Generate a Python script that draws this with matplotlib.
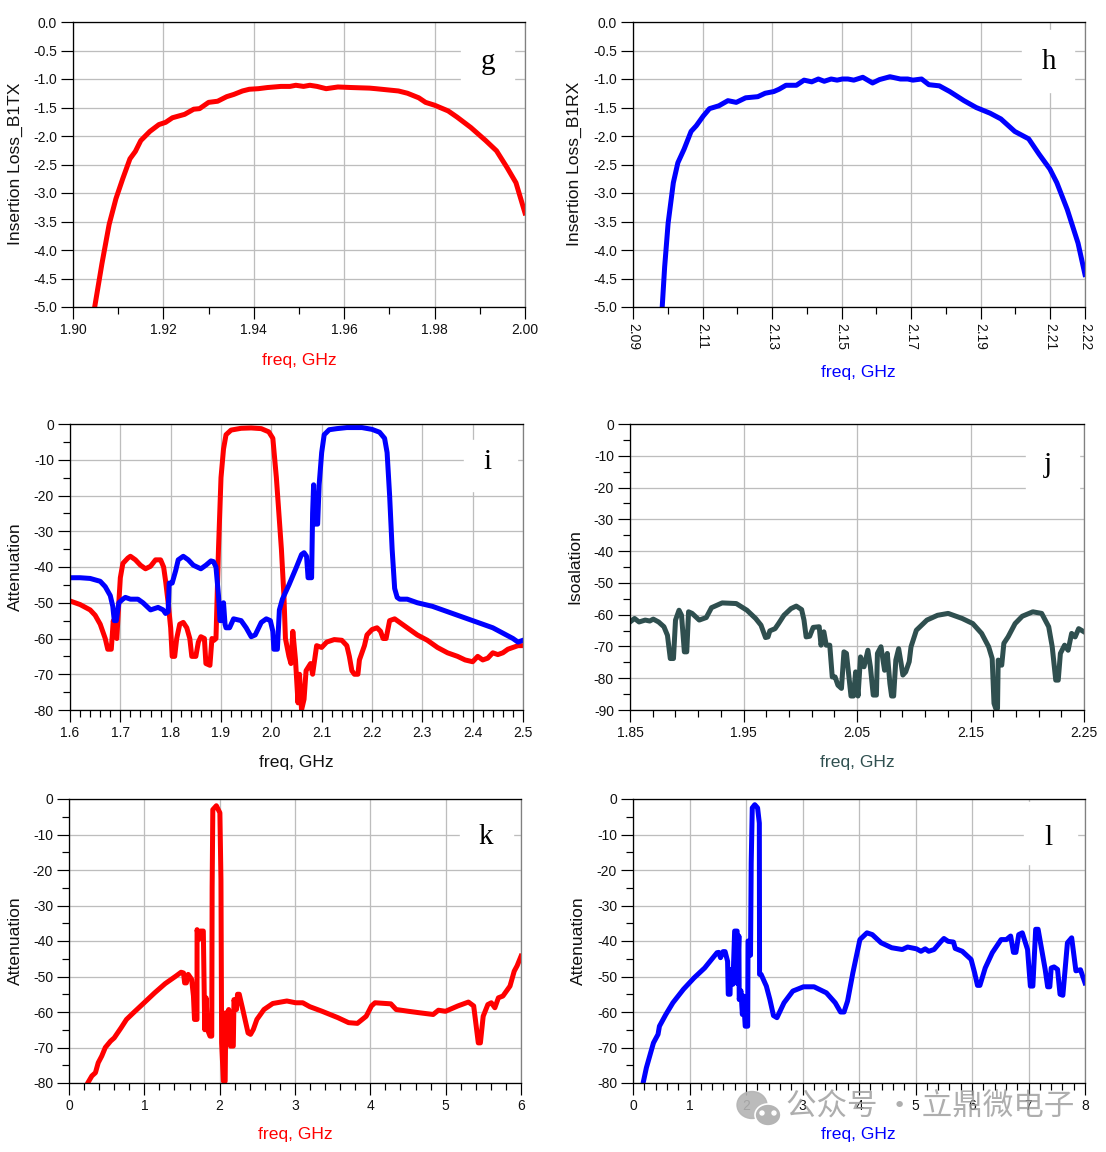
import matplotlib
matplotlib.use('Agg')
import matplotlib.pyplot as plt
from matplotlib.patches import Ellipse
import numpy as np

plt.rcParams['font.family'] = ['Liberation Sans', 'DejaVu Sans']

W, H = 1106, 1152

# panel g
g_freq = [1.9048, 1.9064, 1.908, 1.9095, 1.911, 1.9126, 1.9138, 1.915, 1.917, 1.919, 1.9205, 1.922, 1.9247, 1.9267,
          1.928, 1.93, 1.932, 1.934, 1.9356, 1.9375, 1.939, 1.941, 1.943, 1.946, 1.948, 1.9493, 1.951, 1.9524, 1.954,
          1.956, 1.9586, 1.9617, 1.9656, 1.967, 1.9695, 1.972, 1.974, 1.9765, 1.978, 1.98, 1.983, 1.985, 1.988,
          1.9913, 1.9937, 1.996, 1.998, 2.0]
g_loss = [-5.0, -4.24, -3.55, -3.1, -2.75, -2.4, -2.27, -2.08, -1.92, -1.8, -1.76, -1.68, -1.62, -1.53,
          -1.52, -1.41, -1.39, -1.31, -1.27, -1.21, -1.18, -1.17, -1.15, -1.13, -1.13, -1.11, -1.13, -1.11, -1.13,
          -1.17, -1.14, -1.15, -1.16, -1.17, -1.19, -1.21, -1.25, -1.33, -1.41, -1.46, -1.56, -1.67, -1.85,
          -2.08, -2.26, -2.55, -2.82, -3.35]

# panel h
h_freq = [2.0984, 2.0991, 2.1001, 2.1016, 2.1029, 2.1047, 2.1067, 2.1082, 2.1102, 2.112, 2.1147, 2.1173, 2.1197,
          2.1224, 2.1259, 2.128, 2.1305, 2.132, 2.134, 2.137, 2.1392, 2.1414, 2.1433, 2.145, 2.147, 2.1487, 2.1502,
          2.1518, 2.1535, 2.1561, 2.1589, 2.1609, 2.1639, 2.1669, 2.169, 2.1705, 2.173, 2.1751, 2.1781, 2.1811,
          2.1852, 2.1887, 2.1927, 2.1958, 2.1998, 2.2038, 2.2068, 2.2099, 2.2119, 2.2149, 2.218, 2.22]
h_loss = [-5.0, -4.3, -3.53, -2.82, -2.47, -2.23, -1.92, -1.82, -1.65, -1.52, -1.47, -1.38, -1.41,
          -1.33, -1.31, -1.25, -1.22, -1.18, -1.11, -1.11, -1.02, -1.05, -1.0, -1.04, -1.0, -1.02, -1.0,
          -1.0, -1.02, -0.97, -1.07, -1.01, -0.96, -1.0, -1.0, -1.02, -1.0, -1.1, -1.12, -1.22,
          -1.38, -1.5, -1.6, -1.7, -1.92, -2.05, -2.32, -2.58, -2.82, -3.29, -3.88, -4.43]

# panel i
i_tx_freq = [1.6, 1.62, 1.64, 1.65, 1.66, 1.67, 1.675, 1.682, 1.686, 1.69, 1.693, 1.697, 1.7, 1.705, 1.715, 1.72,
             1.73, 1.74, 1.75, 1.76, 1.77, 1.78, 1.786, 1.79, 1.795, 1.8, 1.803, 1.808, 1.812, 1.818, 1.825, 1.832,
             1.838, 1.842, 1.85, 1.855, 1.86, 1.867, 1.87, 1.878, 1.882, 1.886, 1.89, 1.892, 1.895, 1.9, 1.905,
             1.91, 1.92, 1.94, 1.96, 1.98, 1.995, 2.003, 2.01, 2.02, 2.025, 2.028, 2.035, 2.039, 2.0427, 2.048,
             2.053, 2.056, 2.06, 2.065, 2.069, 2.078, 2.082, 2.09, 2.1, 2.11, 2.125, 2.14, 2.15, 2.155, 2.16,
             2.165, 2.172, 2.175, 2.185, 2.19, 2.2, 2.21, 2.217, 2.222, 2.228, 2.235, 2.245, 2.255, 2.27, 2.29,
             2.31, 2.33, 2.35, 2.37, 2.385, 2.4, 2.41, 2.42, 2.43, 2.44, 2.45, 2.46, 2.47, 2.48, 2.49, 2.5]
i_tx = [-49.5, -50.5, -52, -53.5, -56, -60, -63, -63, -55, -59, -60, -50, -43, -39, -37.5, -37,
        -38, -39.5, -40.5, -39.8, -38, -38, -40, -44, -50, -57, -65, -65, -60, -56, -55.5, -57,
        -60, -65, -65, -61, -59.5, -60, -67, -67.5, -60, -60.5, -60, -50, -35, -15, -7,
        -3, -1.7, -1.2, -1.1, -1.3, -2.2, -4, -15, -35, -48, -60, -65, -67, -58, -66,
        -78, -70, -80, -77, -69, -67, -70, -62, -62.5, -61, -60.3, -60.5, -62, -65, -69,
        -70, -70, -66, -62, -59, -57.5, -57, -58, -60, -60, -55, -54.5, -55.5, -57, -59,
        -60.5, -62.5, -64, -65, -66, -66.5, -65, -66, -65.5, -64, -64.5, -64, -63, -62.5, -62, -62]
i_rx_freq = [1.6, 1.62, 1.64, 1.66, 1.67, 1.68, 1.685, 1.688, 1.692, 1.697, 1.705, 1.71, 1.72, 1.735, 1.745, 1.76,
             1.775, 1.785, 1.79, 1.795, 1.797, 1.803, 1.81, 1.815, 1.825, 1.835, 1.845, 1.86, 1.87, 1.88, 1.885,
             1.89, 1.895, 1.898, 1.902, 1.905, 1.908, 1.91, 1.917, 1.925, 1.94, 1.95, 1.96, 1.968, 1.98, 1.99,
             1.998, 2.003, 2.005, 2.012, 2.016, 2.022, 2.035, 2.05, 2.06, 2.065, 2.07, 2.073, 2.08, 2.082, 2.084,
             2.087, 2.092, 2.095, 2.1, 2.105, 2.115, 2.13, 2.15, 2.18, 2.2, 2.215, 2.225, 2.23, 2.235, 2.24, 2.245,
             2.25, 2.255, 2.27, 2.29, 2.32, 2.35, 2.38, 2.41, 2.44, 2.46, 2.48, 2.49, 2.5]
i_rx = [-43, -43, -43.2, -44, -45.5, -48, -51, -55, -55, -50, -49, -48.5, -49, -49, -50, -52,
        -51.3, -52, -53, -52.5, -44.5, -44.5, -41, -38, -37, -38, -39.5, -40.5, -39.5, -38.3, -38.5,
        -40, -48, -55, -55, -50, -56, -57, -57, -54.5, -55, -57, -59.5, -59, -55.5, -54.5,
        -55, -58, -63, -63, -52, -49, -45, -40, -36.5, -36, -37, -43, -43, -25, -17,
        -28, -28, -17, -8, -3, -1.6, -1.3, -1, -1, -1.5, -2.3, -4, -8, -20, -35, -46,
        -48.5, -49, -49, -50, -51, -52.5, -54, -55.5, -57, -58.5, -60, -61, -60.5]

# panel j
j_freq = [1.85, 1.854, 1.858, 1.8634, 1.8674, 1.8705, 1.8752, 1.8799, 1.883, 1.8855, 1.8883, 1.8901, 1.8932, 1.8954,
          1.8979, 1.9, 1.9016, 1.9047, 1.911, 1.9172, 1.9218, 1.9312, 1.9436, 1.953, 1.9607, 1.9654, 1.9694, 1.9716,
          1.9732, 1.9778, 1.9809, 1.9856, 1.9918, 1.9965, 2.0012, 2.0033, 2.0052, 2.0083, 2.0114, 2.0167, 2.0183,
          2.0208, 2.0229, 2.026, 2.0282, 2.0307, 2.0332, 2.0363, 2.0385, 2.0407, 2.0447, 2.0469, 2.0488, 2.0509,
          2.0531, 2.0562, 2.0596, 2.0618, 2.0643, 2.0671, 2.068, 2.0711, 2.0743, 2.0767, 2.079, 2.0805, 2.0823,
          2.0842, 2.0867, 2.0889, 2.0904, 2.0929, 2.096, 2.0976, 2.1023, 2.1116, 2.1209, 2.1303, 2.1427, 2.152,
          2.1598, 2.166, 2.1691, 2.1707, 2.1722, 2.1738, 2.1744, 2.1775, 2.1794, 2.1831, 2.1893, 2.1956, 2.2049,
          2.2127, 2.2189, 2.222, 2.2251, 2.2273, 2.2292, 2.2329, 2.236, 2.2391, 2.2422, 2.2453, 2.25]
j_iso = [-62.3, -61.2, -62.3, -61.7, -62, -61.4, -62.3, -63.8, -66.5, -73.8, -73.8, -61.7, -58.6, -60.2,
         -71.7, -71.7, -59.1, -59.6, -61.7, -60.9, -57.8, -56.3, -56.5, -58.6, -61.2, -63.3, -67.2, -67,
         -65.1, -64.4, -62.8, -60.2, -58.1, -57.3, -58.4, -61.7, -67, -66.8, -64, -63.8, -69.6,
         -65.4, -69.6, -69.6, -79.6, -79.6, -82.2, -83.2, -71.7, -72.2, -85.6, -85.6, -78, -85.6,
         -73.3, -76.4, -71.2, -76.4, -85.3, -85.3, -72.2, -70.1, -77.5, -72.2, -81.7, -85.6, -85.6,
         -74.3, -70.7, -75.4, -79, -78, -74.8, -70.1, -64.9, -61.7, -60.2, -59.6, -61.2, -62.8,
         -65.9, -70.1, -73.8, -87.9, -89.5, -89.5, -74.3, -75.9, -69, -67, -62.8, -60.5, -59.1,
         -59.6, -63.8, -70.1, -80.6, -80.6, -72.2, -69.6, -71.2, -65.9, -67, -64.4, -65.4]

# panel k
k_freq = [0.257, 0.304, 0.351, 0.388, 0.435, 0.482, 0.552, 0.6, 0.693, 0.763, 0.856, 0.997, 1.137, 1.277, 1.418,
          1.488, 1.52, 1.535, 1.558, 1.582, 1.628, 1.652, 1.666, 1.699, 1.7, 1.722, 1.745, 1.783, 1.802, 1.82,
          1.839, 1.872, 1.895, 1.9, 1.909, 1.956, 2.003, 2.017, 2.026, 2.05, 2.073, 2.082, 2.096, 2.12, 2.143,
          2.181, 2.19, 2.223, 2.237, 2.26, 2.307, 2.377, 2.41, 2.447, 2.494, 2.588, 2.705, 2.892, 3.009, 3.103,
          3.196, 3.36, 3.57, 3.711, 3.828, 3.945, 4.015, 4.062, 4.272, 4.343, 4.506, 4.647, 4.834, 4.904, 4.998,
          5.161, 5.302, 5.372, 5.433, 5.461, 5.498, 5.56, 5.606, 5.653, 5.7, 5.76, 5.854, 5.91, 5.948, 6.0]
k_att = [-79.7, -78, -77.1, -74.3, -72.4, -70, -68.2, -67.3, -64.4, -62.1, -60.2, -57.4, -54.6, -52, -49.9,
         -48.8, -49, -51.8, -51.8, -49.4, -50.8, -55.5, -62.1, -62.1, -36.8, -39.6, -37.2, -37.2, -65, -56,
         -65, -66.8, -66.8, -25, -3, -1.9, -3.9, -22.7, -68.7, -79.5, -79.5, -60.2, -67.7, -59.3, -69.6,
         -69.6, -56.5, -59.3, -55, -55, -59.3, -65.9, -66.3, -64.9, -62.1, -59.3, -57.6, -56.9, -57.4, -57.4,
         -58.5, -59.8, -61.6, -63, -63.2, -61.2, -58.3, -57.4, -57.7, -59.3, -59.8, -60.2, -60.7, -59.5, -59.8,
         -58.3, -57.2, -58.3, -68.7, -68.7, -61.2, -57.9, -57.4, -58.8, -56, -55.5, -52.7, -48.5, -47, -44.3]

# panel l
l_freq = [0.187, 0.237, 0.362, 0.443, 0.468, 0.581, 0.706, 0.893, 1.08, 1.268, 1.487, 1.518, 1.549, 1.593, 1.63,
          1.674, 1.686, 1.718, 1.724, 1.768, 1.799, 1.843, 1.85, 1.874, 1.88, 1.91, 1.936, 1.955, 1.986, 2.03,
          2.036, 2.05, 2.06, 2.08, 2.092, 2.111, 2.155, 2.205, 2.236, 2.24, 2.267, 2.36, 2.423, 2.486, 2.548,
          2.673, 2.829, 3.017, 3.204, 3.423, 3.579, 3.673, 3.735, 3.798, 3.891, 4.016, 4.141, 4.235, 4.391, 4.579,
          4.766, 4.86, 5.016, 5.097, 5.172, 5.234, 5.328, 5.453, 5.503, 5.578, 5.672, 5.703, 5.828, 5.984, 6.047,
          6.097, 6.14, 6.234, 6.359, 6.515, 6.608, 6.684, 6.734, 6.777, 6.827, 6.89, 6.983, 7.033, 7.077, 7.127,
          7.17, 7.233, 7.295, 7.339, 7.377, 7.402, 7.452, 7.514, 7.558, 7.608, 7.689, 7.764, 7.839, 7.92, 8.0]
l_att = [-79.4, -75.7, -68.7, -66.3, -64, -60.7, -57.4, -53.6, -50.4, -47.6, -43.3, -43.2, -44.7, -43, -43,
         -45.7, -55, -55, -48, -52.2, -37.2, -37.2, -52, -38.6, -56.5, -54, -60.7, -55.5, -64, -64,
         -40, -40, -44, -44, -18, -2.5, -1.6, -2.5, -6.8, -49.4, -49.4, -52.7, -56.5, -61, -61.6,
         -57.4, -54.1, -52.9, -52.9, -54.6, -57.4, -60, -60, -56.9, -49, -39.6, -37.7, -38.2, -40.5, -41.9,
         -42.4, -41.7, -42.2, -42.9, -42.2, -42.9, -42.4, -40.1, -39.3, -40.1, -40.3, -42.1, -42.9, -45.2, -49,
         -52.5, -52.5, -47.6, -43.3, -39.6, -39.6, -38.6, -43.2, -43.2, -38.2, -37.7, -42.4, -52.7, -52.7, -36.7,
         -36.7, -42.4, -48, -52.9, -52.9, -47.6, -47.3, -48, -55, -55.3, -40.5, -39.1, -48.4, -48.1, -51.8]

g_ticks = [1.90, 1.92, 1.94, 1.96, 1.98, 2.00]
h_ticks = [2.09, 2.11, 2.13, 2.15, 2.17, 2.19, 2.21, 2.22]
i_ticks = [1.6, 1.7, 1.8, 1.9, 2.0, 2.1, 2.2, 2.3, 2.4, 2.5]
j_ticks = [1.85, 1.95, 2.05, 2.15, 2.25]
k_ticks = [0, 1, 2, 3, 4, 5, 6]
l_ticks = [0, 1, 2, 3, 4, 5, 6, 7, 8]

RED = '#ff0000'
BLUE = '#0000ff'
TEAL = '#2f4f4f'
GRID = '#bdbdbd'
px = 72 / 100  # one pixel in points
LINE = 5 * px


def fx(x):
    return x / W


def fy(y):
    return 1 - y / H


def panel(box, xlim, xticks, xminor, ylim, yticks, yminor, xfmt, yfmt, xlabel, xlabel_pos, xlabel_color,
          ylabel, ylabel_pos, letter, letter_pos, white_box, rotate=0):
    left, top, right, bottom = box
    ax = fig.add_axes([fx(left), fy(bottom), fx(right - left), (bottom - top) / H])
    ax.set_xlim(xlim)
    ax.set_ylim(ylim)
    ax.set_xticks(xticks)
    ax.set_xticks(xminor, minor=True)
    ax.set_yticks(yticks)
    ax.set_yticks(yminor, minor=True)
    ax.set_xticklabels([xfmt.format(v) for v in xticks], rotation=rotate, fontsize=10, color='#111111')
    ax.set_yticklabels([yfmt.format(v) for v in yticks], fontsize=10, color='#111111')
    ax.grid(True, which='major', color=GRID, linewidth=1.3 * px)
    ax.set_axisbelow(True)
    ax.tick_params(which='major', length=12 * px, width=1.2 * px, pad=4 * px)
    ax.tick_params(which='minor', length=7 * px, width=1.2 * px)
    for name in ax.spines:
        ax.spines[name].set_linewidth(1.3 * px)
    ax.spines['right'].set_color('#808080')
    ax.set_xlabel(xlabel, fontsize=12.6, color=xlabel_color)
    ax.xaxis.set_label_coords(fx(xlabel_pos[0]), fy(xlabel_pos[1]), transform=fig.transFigure)
    ax.xaxis.label.set_verticalalignment('center')
    ax.set_ylabel(ylabel, fontsize=12.6, color='#111111')
    ax.yaxis.set_label_coords(fx(ylabel_pos[0]), fy(ylabel_pos[1]), transform=fig.transFigure)
    ax.yaxis.label.set_verticalalignment('center')
    # white box behind the panel letter hides the grid
    fig.add_artist(plt.Rectangle((fx(white_box[0]), fy(white_box[3])), fx(white_box[2] - white_box[0]),
                                 (white_box[3] - white_box[1]) / H, color='white', zorder=3,
                                 transform=fig.transFigure))
    fig.text(fx(letter_pos[0]), fy(letter_pos[1]), letter, family='Liberation Serif', fontsize=21,
             ha='center', va='center', color='black', zorder=4)
    ax.set_zorder(1)
    ax.patch.set_alpha(0)
    return ax


fig = plt.figure(figsize=(W / 100, H / 100), dpi=100)

ax = panel((73, 22, 525, 307), (1.90, 2.00), g_ticks, np.arange(1.91, 2.0, 0.02), (-5, 0), np.arange(-5, 0.5, 0.5), [],
           '{:.2f}', '{:.1f}', 'freq, GHz', (299, 360), RED, 'Insertion Loss_B1TX', (15, 164), 'g', (488, 62),
           (461, 48, 514, 84))
ax.plot(g_freq, g_loss, color=RED, linewidth=LINE)

ax = panel((633, 22, 1085, 307), (2.09, 2.22), h_ticks, np.arange(2.10, 2.21, 0.02), (-5, 0), np.arange(-5, 0.5, 0.5), [],
           '{:.2f}', '{:.1f}', 'freq, GHz', (858, 372), BLUE, 'Insertion Loss_B1RX', (574, 164), 'h', (1049, 62),
           (1022, 30, 1074, 92), rotate=-90)
ax.plot(h_freq, h_loss, color=BLUE, linewidth=LINE)

ax = panel((70, 424, 523, 710), (1.6, 2.5), i_ticks, np.arange(1.62, 2.5, 0.02), (-80, 0), np.arange(-80, 10, 10),
           np.arange(-75, 0, 10), '{:.1f}', '{:.0f}', 'freq, GHz', (296, 762), '#111111', 'Attenuation', (15, 567),
           'i', (488, 462), (464, 440, 517, 491))
ax.plot(i_tx_freq, i_tx, color=RED, linewidth=LINE)
ax.plot(i_rx_freq, i_rx, color=BLUE, linewidth=LINE)

ax = panel((630, 424, 1084, 710), (1.85, 2.25), j_ticks, np.arange(1.87, 2.25, 0.02), (-90, 0), np.arange(-90, 10, 10),
           np.arange(-85, 0, 10), '{:.2f}', '{:.0f}', 'freq, GHz', (857, 762), TEAL, 'Isoalation', (575, 567),
           'j', (1048, 465), (1026, 440, 1079, 491))
ax.plot(j_freq, j_iso, color=TEAL, linewidth=LINE)

ax = panel((69, 799, 521, 1083), (0, 6), k_ticks, np.arange(0.2, 6, 0.2), (-80, 0), np.arange(-80, 10, 10),
           np.arange(-75, 0, 10), '{:.0f}', '{:.0f}', 'freq, GHz', (295, 1135), RED, 'Attenuation', (15, 941),
           'k', (486, 837), (460, 814, 513, 866))
ax.plot(k_freq, k_att, color=RED, linewidth=LINE)

ax = panel((633, 799, 1085, 1083), (0, 8), l_ticks, np.arange(0.2, 8, 0.2), (-80, 0), np.arange(-80, 10, 10),
           np.arange(-75, 0, 10), '{:.0f}', '{:.0f}', 'freq, GHz', (858, 1135), BLUE, 'Attenuation', (578, 941),
           'l', (1048, 838), (1024, 802, 1077, 864))
ax.plot(l_freq, l_att, color=BLUE, linewidth=LINE)

# watermark: chat icon and account name
fig.add_artist(Ellipse((fx(752), fy(1105)), 30 / W, 27 / H, color='#b4b4b4', zorder=5, alpha=0.9))
fig.add_artist(Ellipse((fx(768), fy(1115)), 26 / W, 22 / H, fc='#b4b4b4', ec='white', lw=1.2, zorder=6))
for ex in (762, 774):
    fig.add_artist(Ellipse((fx(ex), fy(1113)), 4 / W, 4 / H, color='white', zorder=6))
fig.text(fx(930), fy(1107), '公众号 · 立鼎微电子', family=['Noto Sans CJK SC', 'DejaVu Sans'], fontsize=22,
         ha='center', va='center', color='#9a9a9a', alpha=0.8, zorder=7)

plt.savefig('out.png', dpi=100)
plt.close()
